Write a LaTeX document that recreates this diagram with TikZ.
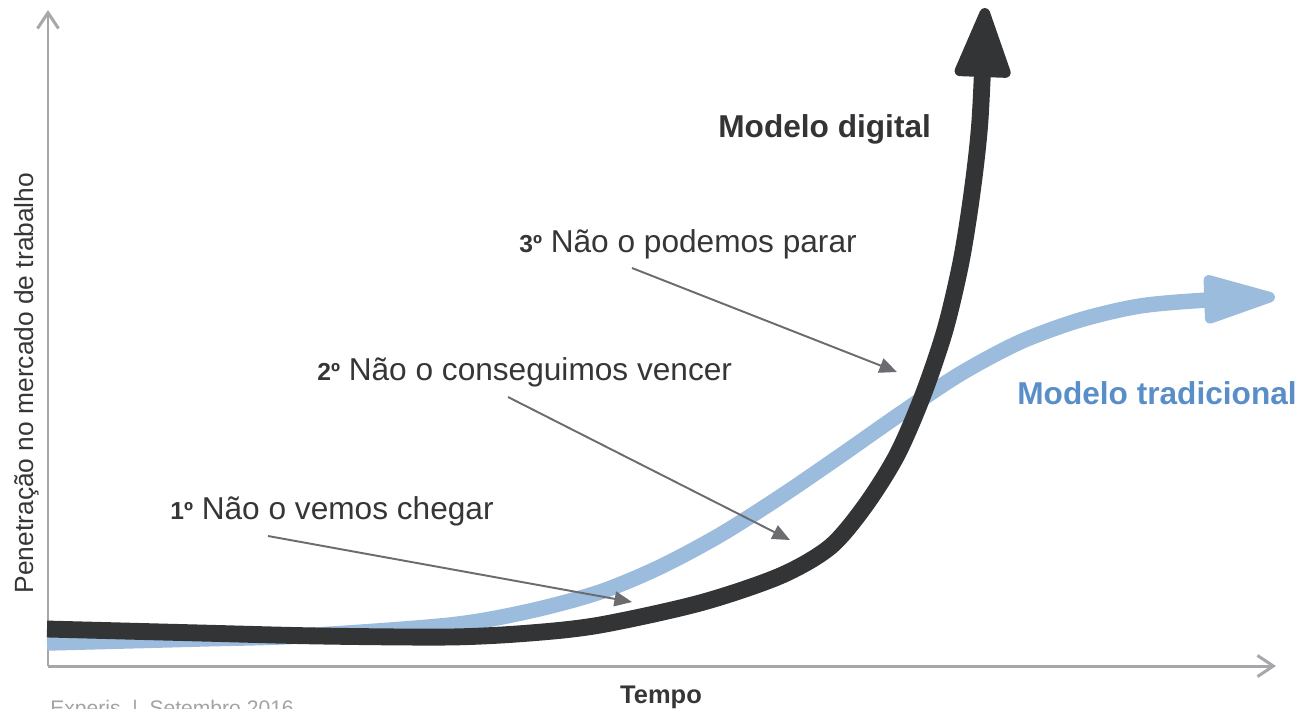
\documentclass[tikz,border=0pt]{standalone}
\usepackage{fontspec}
\setmainfont{Liberation Sans}
\usetikzlibrary{arrows.meta}

\definecolor{digital}{HTML}{333436}
\definecolor{tradline}{HTML}{9BBCDC}
\definecolor{tradtext}{HTML}{5A8EC8}
\definecolor{pointgray}{HTML}{6B6B70}
\definecolor{axisgray}{HTML}{A7A7AB}
\definecolor{labeltext}{HTML}{363636}
\definecolor{footgray}{HTML}{A3A3A3}

\newcommand{\etapa}[1]{{\bfseries\fontsize{14}{14}\selectfont #1º}}

\begin{document}
\begin{tikzpicture}[x=0.02cm, y=-0.02cm,
    axis/.style = {draw=axisgray, line width=1.7pt, -{Straight Barb[length=9pt, width=12pt]}},
    pointer/.style = {draw=pointgray, line width=1.1pt, -{Triangle[length=10pt, width=8.5pt]}},
    lbl/.style = {anchor=base west, inner sep=0pt, text=labeltext, font=\fontsize{18}{21}\selectfont},
    model/.style = {anchor=base west, inner sep=0pt, font=\bfseries\fontsize{18}{21}\selectfont}]
    \useasboundingbox (0,0) rectangle (1303,708);

    % axes
    \coordinate (origin) at (48,666);
    \coordinate (ytip) at (48,10);
    \coordinate (xtip) at (1276,666);
    \draw[axis] (origin) -- (ytip);
    \draw[axis] (origin) -- (xtip);

    \node[rotate=90, anchor=base, inner sep=0pt, text=labeltext, font=\fontsize{15}{18}\selectfont] (ylabel) at (33,383) {Penetração no mercado de trabalho};
    \node[anchor=base, inner sep=0pt, text=labeltext, font=\bfseries\fontsize{14.5}{17}\selectfont] (xlabel) at (661,703) {Tempo};
    \node[anchor=base west, inner sep=0pt, text=footgray, font=\fontsize{12}{14}\selectfont] (foot) at (50,715) {Experis\ \ |\ \ Setembro 2016};

    % the two models
    \draw[tradline, line width=8.8pt, -{Triangle[length=48pt, width=28pt, round, line width=6pt]}]
        plot[smooth, tension=0.5] coordinates {(47,643) (200,639) (300,636) (450,625) (530,611) (600,592) (660,567) (720,535) (780,497) (840,456) (900,414) (960,374) (1020,342) (1080,320) (1140,306) (1207,300) (1275,297)};
    \draw[digital, line width=9.6pt, -{Triangle[length=45pt, width=33pt, round, line width=6pt]}]
        plot[smooth, tension=0.5] coordinates {(47,629) (200,633) (320,636) (450,637) (530,633) (600,625) (700,603) (780,576) (830,547) (865,506) (897,455) (923,395) (945,330) (961,262) (972,193) (980,120) (985,8)};

    \node[model, text=digital] (digital) at (718,137) {Modelo digital};
    \node[model, text=tradtext] (trad) at (1017,404) {Modelo tradicional};

    % the three stages
    \node[lbl] (passo1) at (170,519) {\etapa{1} Não o vemos chegar};
    \node[lbl] (passo2) at (317,380) {\etapa{2} Não o conseguimos vencer};
    \node[lbl] (passo3) at (519,252) {\etapa{3} Não o podemos parar};

    \coordinate (p1s) at (268,536);
    \coordinate (p1e) at (632,602);
    \coordinate (p2s) at (508,397);
    \coordinate (p2e) at (790,540);
    \coordinate (p3s) at (632,268);
    \coordinate (p3e) at (897,372);
    \draw[pointer] (p1s) -- (p1e);
    \draw[pointer] (p2s) -- (p2e);
    \draw[pointer] (p3s) -- (p3e);
\end{tikzpicture}
\end{document}
